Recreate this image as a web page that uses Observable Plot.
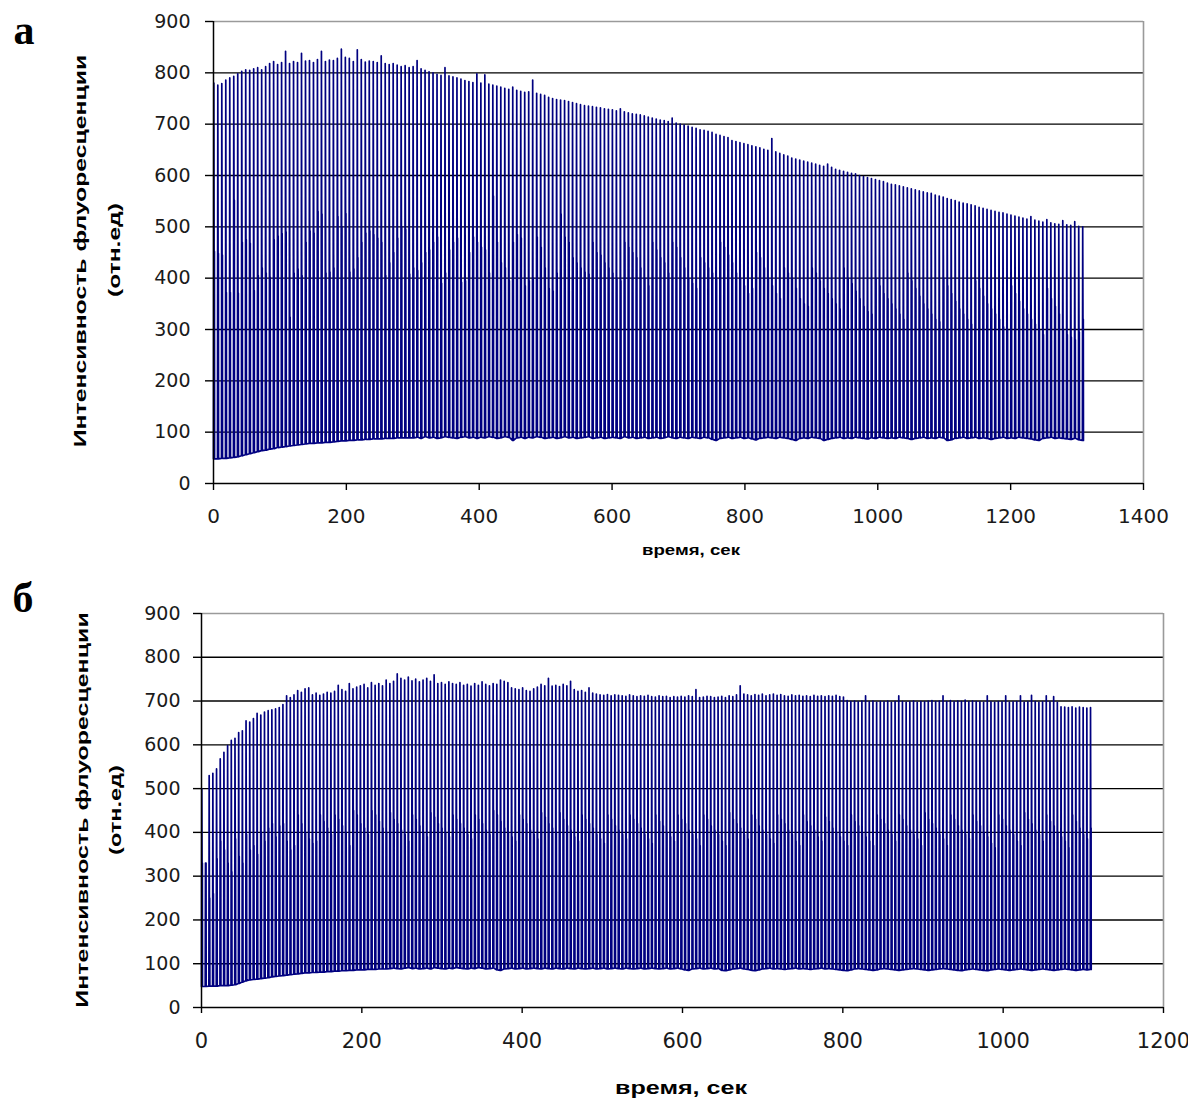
<!DOCTYPE html>
<html><head><meta charset="utf-8">
<script src="https://cdn.jsdelivr.net/npm/d3@7"></script>
<script src="https://cdn.jsdelivr.net/npm/@observablehq/plot@0.6"></script>
<style>
body{margin:0;background:#fff;}
#wrap{position:relative;width:1188px;height:1099px;overflow:hidden;font-family:"Liberation Sans",Arial,sans-serif;color:#000;}
.panel{position:absolute;left:0;}
.letter{position:absolute;font-family:"Liberation Serif","Times New Roman",serif;font-weight:bold;font-size:42px;line-height:1;}
.lab{position:absolute;font-weight:bold;white-space:nowrap;line-height:1;transform-origin:center center;}
</style></head>
<body><div id="wrap"></div>
<script>
// ---------- Panel а : time step (s) per cycle, values per cycle ----------
const aStep = 6;
const aHigh = [
780,776,779,786,790,793,798,803,806,805,
808,810,806,812,818,822,816,820,842,818,
822,820,838,823,824,820,826,842,822,825,
824,828,846,830,828,822,845,826,821,823,
822,820,833,818,816,818,815,812,814,810,
812,824,808,805,802,800,797,795,810,794,
792,790,788,785,783,781,798,780,796,778,
776,774,772,770,768,772,766,764,762,763,
786,760,758,756,752,750,748,747,746,744,
742,740,738,736,735,734,733,732,730,729,
728,726,730,724,722,720,719,718,716,714,
712,710,708,707,705,712,702,700,698,696,
694,692,689,688,686,684,680,678,676,674,
668,666,664,662,660,658,656,654,651,649,
672,646,643,640,638,634,632,630,628,626,
624,622,620,618,622,616,612,610,608,606,
604,603,600,598,596,594,592,590,588,585,
583,582,580,578,576,574,572,570,568,566,
565,562,560,558,555,553,551,548,546,545,
543,541,538,536,534,532,530,528,527,525,
523,521,519,517,515,520,513,511,509,514,
508,506,505,512,504,503,510,501,500];
const aMid = [
452,448,445,372,372,552,371,470,475,468,
376,405,420,410,402,475,482,487,490,324,
410,418,405,470,492,488,530,525,410,412,
420,520,500,526,412,418,440,470,488,492,
485,478,470,405,430,450,478,500,495,408,
420,415,430,450,455,470,480,390,410,455,
470,478,392,395,450,480,470,460,455,410,
560,470,430,420,395,470,485,478,385,395,
400,480,460,420,380,375,410,525,480,470,
440,430,420,412,408,470,450,445,430,420,
410,400,395,470,460,450,440,420,400,385,
470,455,440,430,410,470,460,440,420,400,
390,380,440,430,420,410,400,470,460,445,
430,410,400,385,370,380,450,440,420,400,
385,370,360,420,410,400,380,360,350,345,
420,410,395,380,370,360,350,340,420,400,
390,375,360,345,335,330,400,385,370,360,
350,340,330,320,410,395,380,365,350,340,
330,320,315,400,385,370,355,340,330,320,
310,395,380,365,350,340,330,320,305,300,
385,370,355,340,330,320,310,300,290,380,
360,345,330,300,290,285,280,295,320];
const aLow = [
48,48,49,49,50,51,52,54,56,58,
60,62,64,65,67,68,70,71,72,73,
74,75,76,77,78,78,79,79,80,80,
81,82,83,83,84,84,85,85,86,86,
87,87,87,88,88,88,89,89,89,89,
89,90,88,91,89,90,88,89,91,90,
89,88,90,91,89,90,88,90,89,91,
90,88,89,91,90,84,89,90,88,90,
89,91,90,88,89,90,88,89,91,89,
90,88,89,90,91,88,89,90,88,89,
90,89,88,91,89,90,88,89,90,88,
89,90,88,89,91,89,88,90,89,88,
90,89,88,90,89,86,84,88,89,90,
88,89,90,88,89,87,85,88,89,90,
89,88,90,89,88,86,84,88,89,88,
90,89,88,84,86,88,89,90,88,89,
88,90,89,88,87,89,88,90,89,88,
89,88,90,89,88,86,88,89,90,88,
89,88,90,89,84,85,88,89,90,88,
89,90,88,89,88,86,88,89,90,88,
89,88,90,89,88,87,85,84,88,89,
90,88,89,88,87,86,88,85,84];

// ---------- Panel б ----------
const bStep = 4.6;
const bHigh = [
500,330,530,535,545,568,583,598,610,615,
628,632,655,652,660,672,668,675,678,680,
682,685,692,712,708,714,724,720,728,730,
714,718,713,716,720,718,722,736,726,722,
740,728,732,735,738,730,742,736,740,735,
748,740,745,762,752,748,755,746,750,744,
748,752,745,760,740,742,738,744,740,738,
742,736,738,734,740,736,744,738,735,740,
738,748,745,742,730,728,726,730,724,722,
728,732,738,735,752,734,736,733,738,735,
745,726,722,724,720,730,718,716,714,713,
715,712,714,713,712,711,714,712,710,712,
711,713,710,709,712,710,711,708,710,709,
711,709,712,710,726,708,709,711,710,708,
709,711,708,712,710,714,735,716,714,712,
715,713,716,712,714,716,713,715,712,711,
714,712,713,711,712,710,713,711,712,710,
712,711,713,710,709,701,699,700,698,700,
712,698,700,697,699,698,700,697,699,712,
699,697,698,700,697,699,698,700,701,699,
700,712,699,701,698,700,699,702,698,700,
699,698,697,712,698,697,699,698,712,697,
698,699,712,697,698,713,699,697,698,712,
698,710,697,687,686,685,687,684,686,685,
684,685];
const bMid = [
330,330,250,260,340,380,360,330,310,385,
345,330,395,360,370,350,400,380,410,420,
390,415,420,380,360,370,440,420,400,385,
375,380,440,425,410,395,440,430,415,400,
370,450,440,420,410,395,450,440,425,410,
400,445,430,420,405,395,380,440,430,415,
400,390,445,435,420,410,400,390,440,430,
420,410,395,385,440,430,420,405,395,450,
440,425,410,400,390,380,440,430,420,405,
395,385,445,435,420,410,400,445,430,415,
405,390,380,440,430,420,410,395,385,375,
440,430,415,405,395,385,440,430,420,410,
395,385,375,440,425,415,400,390,380,440,
430,420,405,395,385,370,440,430,415,405,
395,380,370,445,430,420,410,395,385,440,
430,415,405,395,385,375,440,430,420,405,
395,380,370,440,425,415,405,390,380,435,
425,410,400,390,380,370,440,425,415,400,
390,380,370,440,430,420,405,395,380,440,
430,415,405,395,385,370,445,430,420,410,
395,385,370,440,430,415,405,395,385,440,
425,415,400,390,375,365,440,430,415,405,
395,380,370,445,430,420,405,395,380,440,
425,415,400,390,380,365,440,425,410,395,
385,410];
const bLow = [
48,48,49,49,49,50,50,50,51,52,
55,58,61,63,64,65,66,67,68,70,
71,72,73,74,75,76,77,78,79,79,
80,80,81,81,82,82,83,83,84,84,
85,85,86,86,86,87,87,87,88,88,
88,89,90,89,88,90,91,89,90,88,
89,90,88,91,90,89,88,90,89,91,
90,89,88,90,89,91,90,88,89,90,
86,85,88,89,90,88,89,90,88,89,
90,89,88,90,89,88,90,89,88,90,
89,88,90,89,88,89,90,88,89,90,
88,89,90,89,88,90,89,88,89,90,
88,89,90,89,88,89,90,88,89,90,
88,86,85,88,89,90,88,89,90,88,
89,85,84,86,88,89,90,88,87,85,
84,86,88,89,90,88,89,88,87,88,
89,90,88,89,88,87,88,89,90,88,
89,88,87,86,85,84,86,88,89,88,
87,86,85,86,88,89,88,87,86,85,
86,87,88,89,88,87,86,85,86,87,
88,89,88,87,86,85,84,86,87,88,
87,86,85,84,86,87,88,87,86,85,
86,87,88,87,86,85,86,87,88,87,
86,85,86,87,88,87,86,85,86,87,
86,87];

const yTicks = [0,100,200,300,400,500,600,700,800,900];
const aXTicks = [0,200,400,600,800,1000,1200,1400];
const bXTicks = [0,200,400,600,800,1000,1200];
const yLabel1 = "Интенсивность флуоресценции";
const yLabel2 = "(отн.ед)";
const xLabel = "время, сек";

// order of samples within one cycle: low -> high -> mid -> mid -> low (fractions of step)
const shape = [0, 0.08, 0.15, 0.23, 0.27];
function cycles(step, hi, mid, lo) {
  const rows = [];
  hi.forEach((h, i) => {
    const t0 = i * step;
    rows.push({t: t0 + shape[0] * step, v: lo[i]});
    rows.push({t: t0 + shape[1] * step, v: h});
    rows.push({t: t0 + shape[2] * step, v: mid[i]});
    rows.push({t: t0 + shape[3] * step, v: mid[i]});
    rows.push({t: t0 + shape[4] * step, v: lo[i]});
  });
  return rows;
}

const tickFont = "'DejaVu Sans', Verdana, sans-serif";

function panel(o) {
  const data = cycles(o.step, o.hi, o.mid, o.lo);
  const svg = Plot.plot({
    width: 1188, height: o.height,
    marginLeft: o.ml, marginRight: o.mr, marginTop: o.mt, marginBottom: o.mb,
    style: {background: "transparent", fontFamily: tickFont, color: "#000", overflow: "visible"},
    x: {domain: [0, o.xmax]},
    y: {domain: [0, 900]},
    marks: [
      Plot.ruleY(yTicks.filter(d => d > 0 && d < 900), {stroke: "#000", strokeWidth: 1.4}),
      Plot.ruleY([900], {stroke: "#9a9a9a", strokeWidth: 1.6}),
      Plot.ruleX([o.xmax], {stroke: "#9a9a9a", strokeWidth: 1.6}),
      Plot.line(data, {x: "t", y: "v", stroke: "#000080", strokeWidth: 1.7}),
      Plot.ruleY([0], {stroke: "#000", strokeWidth: 1.5}),
      Plot.ruleX([0], {stroke: "#000", strokeWidth: 1.5}),
      Plot.axisY({ticks: yTicks, tickFormat: d => String(d), tickSize: 8, tickPadding: o.ytp, fontSize: o.yfs, fontFamily: tickFont, fill: "#1a1a1a", label: null, strokeWidth: 1.4}),
      Plot.axisX({ticks: o.xticks, tickFormat: d => String(d), tickSize: o.xts, tickPadding: o.xtp, fontSize: o.xfs, fontFamily: tickFont, fill: "#1a1a1a", label: null, strokeWidth: 1.4})
    ]
  });
  svg.classList.add("panel");
  svg.style.top = o.top + "px";
  return svg;
}

const wrap = document.getElementById("wrap");
wrap.appendChild(panel({step: aStep, hi: aHigh, mid: aMid, lo: aLow, xmax: 1400, xticks: aXTicks,
  top: 0, height: 530, ml: 213, mr: 45, mt: 21, mb: 47,
  ytp: 15, yfs: 19, xts: 7, xtp: 18, xfs: 20}));
wrap.appendChild(panel({step: bStep, hi: bHigh, mid: bMid, lo: bLow, xmax: 1200, xticks: bXTicks,
  top: 580, height: 480, ml: 201, mr: 25, mt: 33, mb: 53,
  ytp: 13, yfs: 19, xts: 6, xtp: 20, xfs: 21}));

function addLabel(text, cx, cy, size, target, rotate, cls) {
  const d = document.createElement("div");
  d.className = cls || "lab";
  d.textContent = text;
  d.style.fontSize = size + "px";
  d.style.left = cx + "px";
  d.style.top = cy + "px";
  wrap.appendChild(d);
  const w = d.offsetWidth;
  const s = target ? target / w : 1;
  d.style.transform = `translate(-50%,-50%)${rotate ? " rotate(-90deg)" : ""} scaleX(${s})`;
}
addLabel("а", 24, 30, 42, 0, false, "letter");
addLabel("б", 23, 598, 42, 0, false, "letter");
addLabel(yLabel1, 80, 251, 17, 392, true);
addLabel(yLabel2, 114, 250, 17, 94, true);
addLabel(xLabel, 691, 549, 15, 98, false);
addLabel(yLabel1, 82, 810, 17, 395, true);
addLabel(yLabel2, 115, 810, 17, 90, true);
addLabel(xLabel, 681, 1087, 19, 132, false);
</script></body></html>
